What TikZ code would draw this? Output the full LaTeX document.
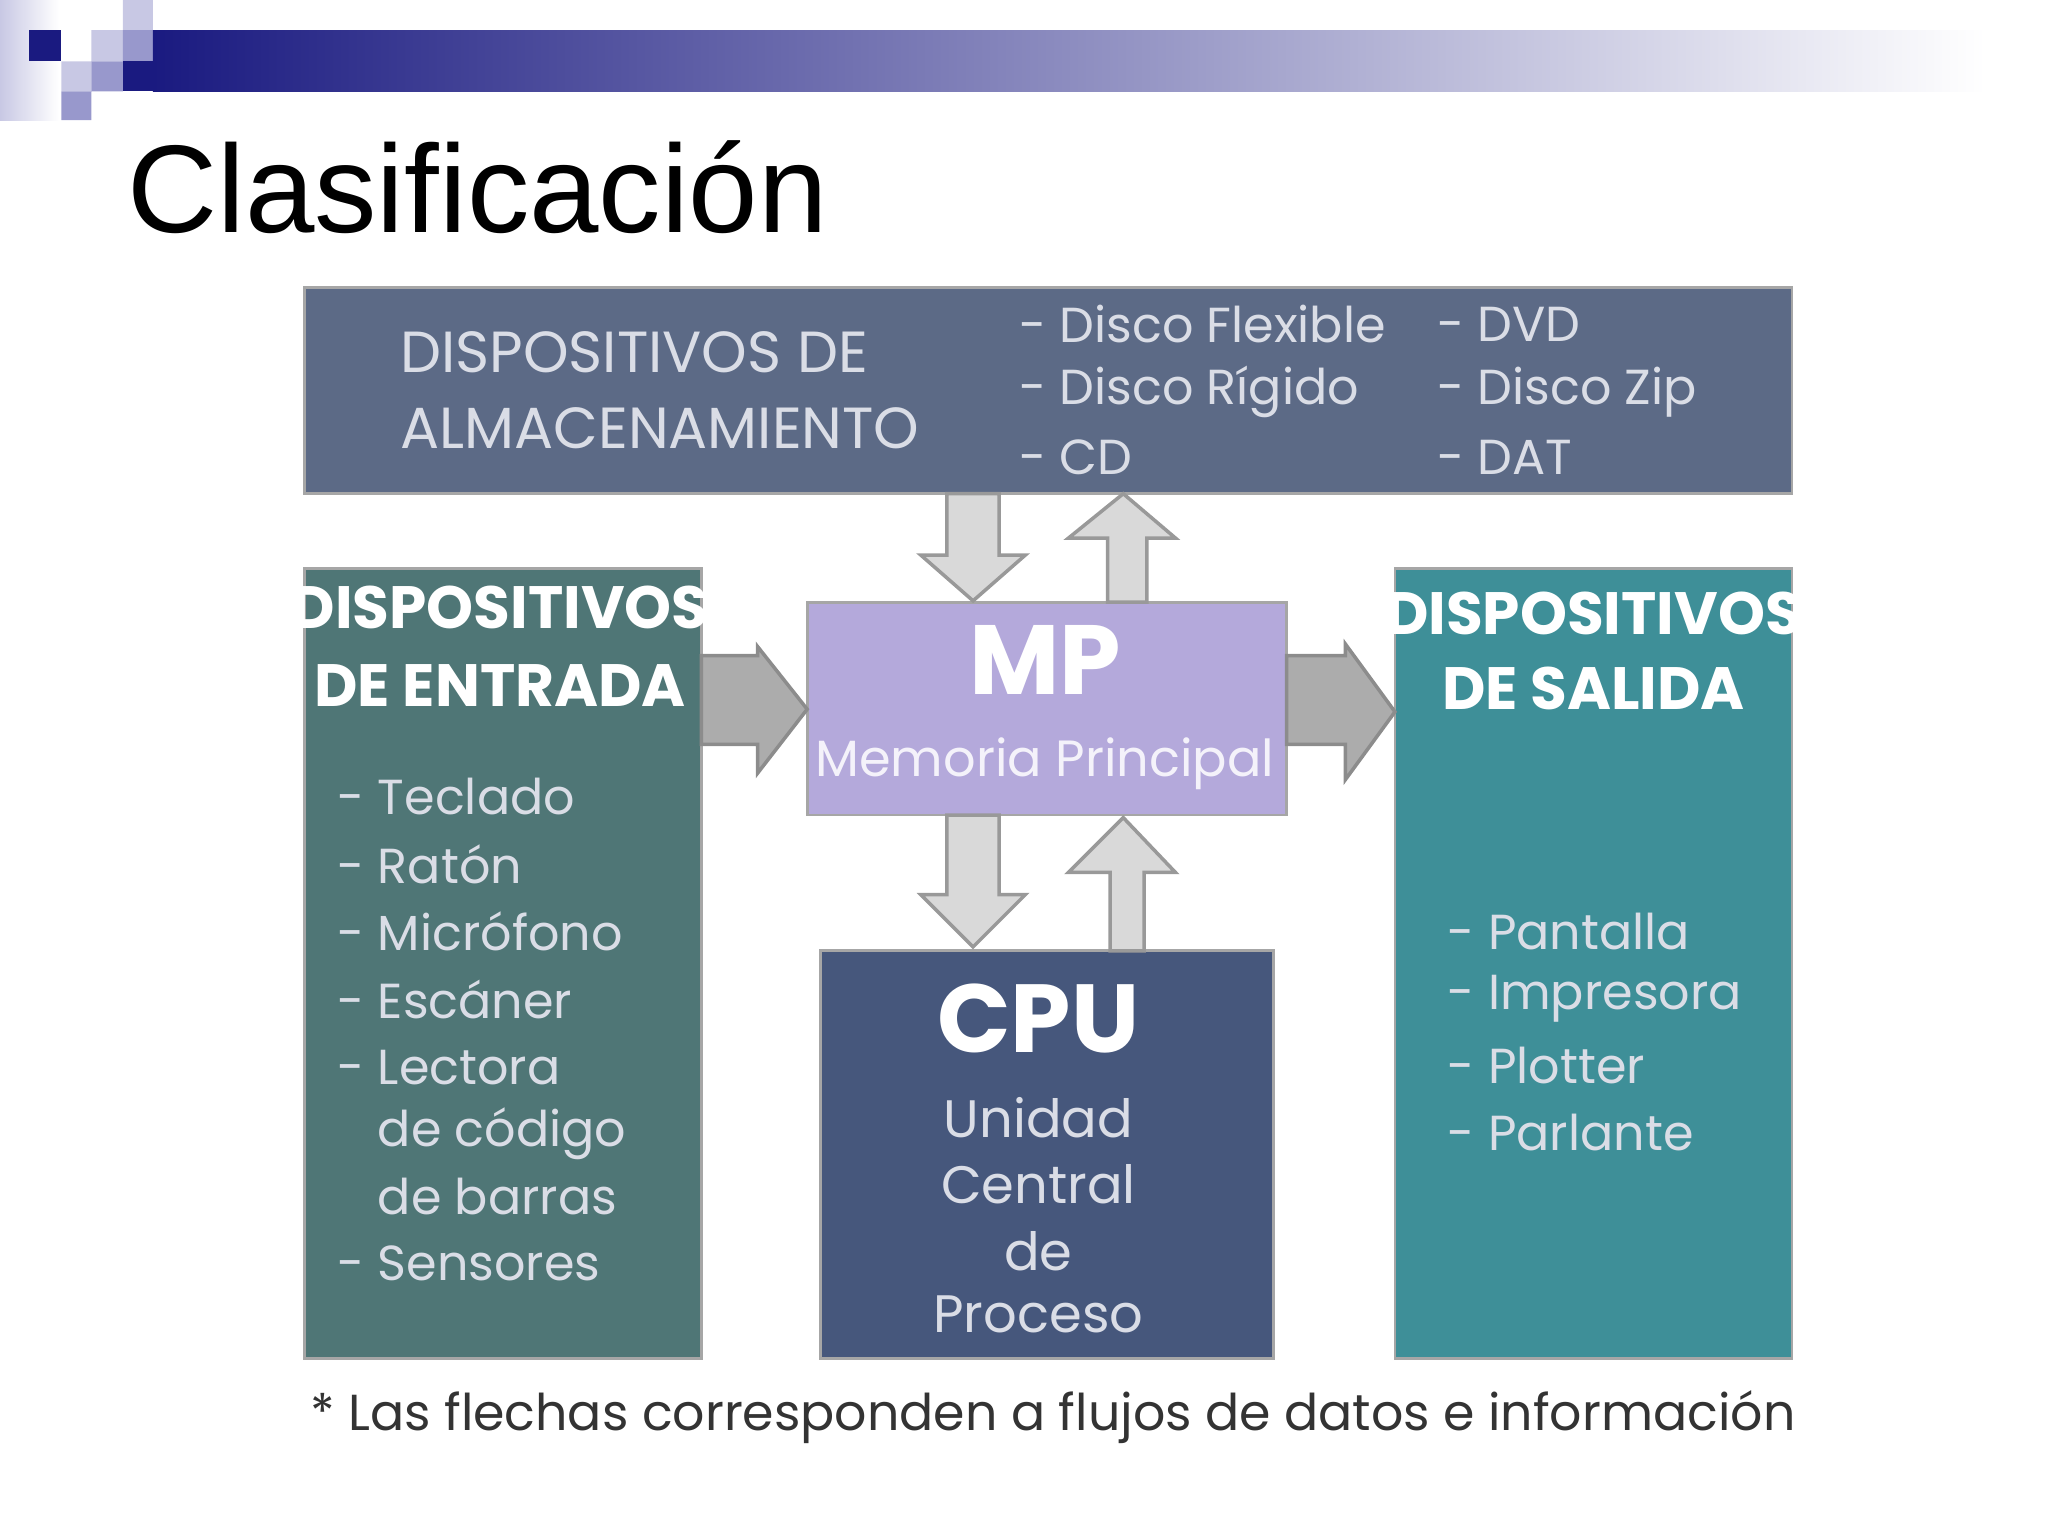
\documentclass[tikz,border=0pt]{standalone}
\usepackage{fontspec}
\usetikzlibrary{fit}
\setmainfont{Liberation Sans}
\newfontfamily\gf{Poppins}
\definecolor{navy}{HTML}{1A1A80}
\definecolor{lav}{HTML}{C8C8E4}
\definecolor{mlav}{HTML}{9898CC}
\definecolor{topc}{HTML}{5C6A86}
\definecolor{inc}{HTML}{4F7676}
\definecolor{outc}{HTML}{3E8F98}
\definecolor{mpc}{HTML}{B4A9DB}
\definecolor{cpuc}{HTML}{46577C}
\definecolor{txl}{HTML}{DADDE6}
\begin{document}
\begin{tikzpicture}[x=0.013061cm,y=-0.013061cm,
  box/.style={draw=black!35,line width=0.8pt,inner sep=0},
  varrow/.style={draw=gray!80,fill=gray!30,line width=1pt,line join=miter},
  harrow/.style={draw=gray!90,fill=gray!65,line width=1pt},
  lt/.style={text=txl,font=\gf\fontsize{14}{16}\selectfont,anchor=west,inner sep=0},
  bt/.style={text=white,font=\gf\bfseries\fontsize{17}{19}\selectfont,inner sep=0}]
\useasboundingbox (0,0) rectangle (1568,1176);
% header decoration
\shade[left color=lav,right color=white] (0,0) rectangle (45,92);
\fill[navy] (22,23) rectangle (47,47);
\fill[lav] (47,47) rectangle (70,70) (70,23) rectangle (94,47) (94,0) rectangle (117,23);
\fill[mlav] (94,23) rectangle (117,47) (70,47) rectangle (94,70) (47,70) rectangle (70,92);
\fill[navy] (94,47) rectangle (117,70);
\shade[left color=navy,right color=white] (117,23) rectangle (1520,70);
\node[anchor=base west,inner sep=0,font=\fontsize{35.5}{38}\selectfont] (title) at (97,178) {Clasificación};
% boxes
\node[box,fill=topc,fit={(233,220)(1372,378)}] (top) {};
\node[box,fill=inc,fit={(233,435)(537,1040)}] (in) {};
\node[box,fill=outc,fit={(1068,435)(1372,1040)}] (out) {};
\node[box,fill=mpc,fit={(618,461)(985,624)}] (mp) {};
\node[box,fill=cpuc,fit={(628,728)(975,1040)}] (cpu) {};
% top texts
\node[lt,font=\gf\fontsize{16.5}{18}\selectfont] (t1) at (306,270) {DISPOSITIVOS DE};
\node[lt,font=\gf\fontsize{16.5}{18}\selectfont] (t2) at (306,328) {ALMACENAMIENTO};
\node[lt] (a1) at (780,248) {- Disco Flexible};
\node[lt] (a2) at (780,300) {- Disco Rígido};
\node[lt] (a3) at (780,350) {- CD};
\node[lt] (a4) at (1100,248) {- DVD};
\node[lt] (a5) at (1100,300) {- Disco Zip};
\node[lt] (a6) at (1100,350) {- DAT};
% input
\node[bt] (i1) at (383,465) {DISPOSITIVOS};
\node[bt] (i2) at (383,525) {DE ENTRADA};
\foreach \t/\y/\n in {- Teclado/610/b1,- Ratón/662/b2,- Micrófono/713/b3,- Escáner/765/b4,- Lectora/817/b5,\phantom{-} de código/868/b6,\phantom{-} de barras/916/b7,- Sensores/967/b8}
  \node[lt] (\n) at (258,\y) {\t};
% output
\node[bt] (o1) at (1220,470) {DISPOSITIVOS};
\node[bt] (o2) at (1220,527) {DE SALIDA};
\foreach \t/\y/\n in {- Pantalla/713/c1,- Impresora/765/c2,- Plotter/816/c3,- Parlante/867/c4}
  \node[lt] (\n) at (1108,\y) {\t};
% MP
\node[bt,font=\gf\bfseries\fontsize{28}{30}\selectfont] (mpt) at (800,505) {MP};
\node[text=white!85!mpc,font=\gf\fontsize{14.5}{16}\selectfont,inner sep=0] (mps) at (800,585) {Memoria Principal};
% CPU
\node[bt,font=\gf\bfseries\fontsize{27.5}{30}\selectfont] (cput) at (795,780) {CPU};
\foreach \t/\y/\n in {Unidad/856/d1,Central/907/d2,de/958/d3,Proceso/1006/d4}
  \node[text=txl,font=\gf\fontsize{15}{17}\selectfont,inner sep=0] (\n) at (795,\y) {\t};
% arrows
\draw[varrow] (725,378) -- (765,378) -- (765,425) -- (785,425) -- (745,460) -- (705,425) -- (725,425) -- cycle;
\draw[varrow] (848,461) -- (878,461) -- (878,412) -- (900,412) -- (860,378) -- (818,412) -- (848,412) -- cycle;
\draw[varrow] (725,624) -- (765,624) -- (765,685) -- (785,685) -- (745,725) -- (705,685) -- (725,685) -- cycle;
\draw[varrow] (850,728) -- (876,728) -- (876,668) -- (900,668) -- (860,626) -- (818,668) -- (850,668) -- cycle;
\draw[harrow] (537,502) -- (580,502) -- (580,495) -- (618,543) -- (580,592) -- (580,570) -- (537,570) -- cycle;
\draw[harrow] (985,502) -- (1030,502) -- (1030,493) -- (1068,545) -- (1030,597) -- (1030,570) -- (985,570) -- cycle;
\node[anchor=base west,inner sep=0,text=black!80,font=\gf\fontsize{14.4}{16}\selectfont] (foot) at (237,1095) {* Las flechas corresponden a flujos de datos e información};
\end{tikzpicture}
\end{document}
